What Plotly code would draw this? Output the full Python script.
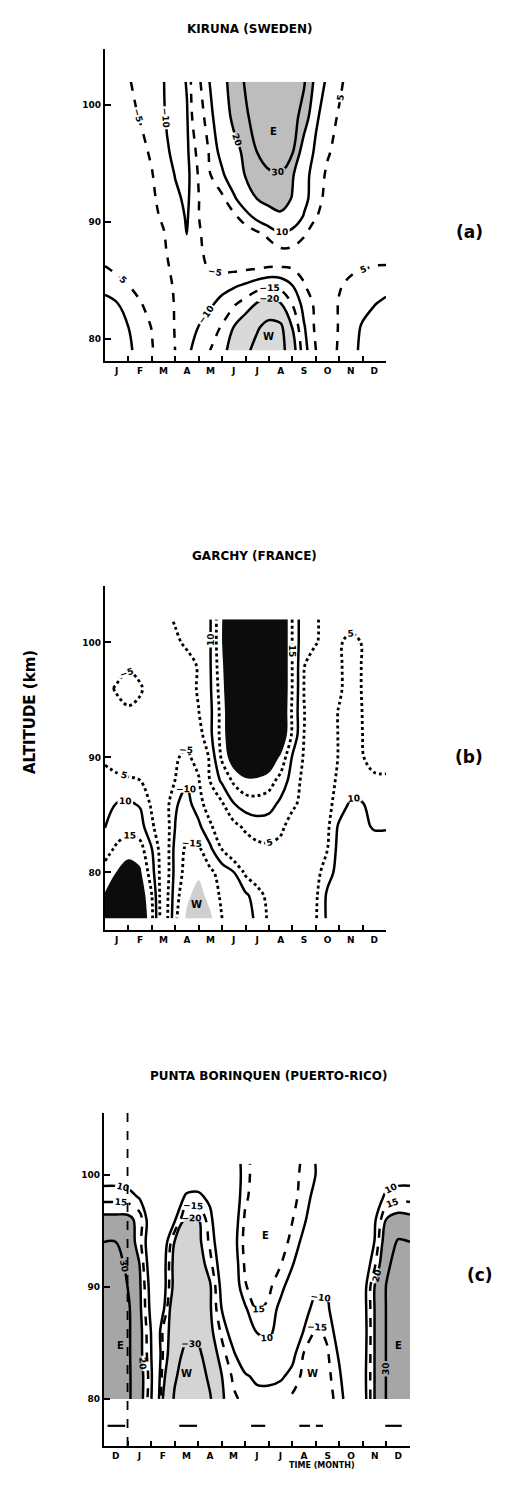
import plotly.graph_objects as go

W, H = 520, 1490

# ---------------- data ----------------
MONTH_LABELS_AB = ["J", "F", "M", "A", "M", "J", "J", "A", "S", "O", "N", "D"]
MONTH_LABELS_C = ["D", "J", "F", "M", "A", "M", "J", "J", "A", "S", "O", "N", "D"]
MONTH_CENTRES_AB = [0.5, 1.5, 2.5, 3.5, 4.5, 5.5, 6.5, 7.5, 8.5, 9.5, 10.5, 11.5]
MONTH_EDGES_AB = [1, 2, 3, 4, 5, 6, 7, 8, 9, 10, 11]
MONTH_CENTRES_C = [-0.5, 0.5, 1.5, 2.5, 3.5, 4.5, 5.5, 6.5, 7.5, 8.5, 9.5, 10.5, 11.5]
MONTH_EDGES_C = [0, 1, 2, 3, 4, 5, 6, 7, 8, 9, 10, 11]
ALT_TICKS = [80, 90, 100]
ALT_TICK_TEXT = ["80", "90", "100"]

# (a) Kiruna - zonal wind (m/s), rows = altitude (km), columns = month
KIRUNA_MONTH = [0, 0.5, 1, 1.5, 2, 2.5, 3, 3.5, 4, 4.5, 5, 5.5, 6, 6.5, 7, 7.5, 8, 8.5, 9, 9.5, 10, 10.5, 11, 11.5, 12]
KIRUNA_ALT = [79, 81, 83, 84.5, 86, 87.5, 89, 90.5, 92, 94, 96, 99, 102]
KIRUNA_WIND = [
    [16, 14, 11, 8, 5.5, 1, -5.1, -9, -12, -15.1, -18, -23, -28, -33, -36, -34, -23, -12, -5.1, 1, 6, 8.5, 11, 13.5, 15.5],
    [14, 12.5, 10, 7.5, 4.8, 0, -5.5, -8, -10.1, -12.5, -15.5, -20.1, -24, -29, -33, -32, -19.8, -10.5, -4, 1, 5.5, 8, 10.5, 12, 13.5],
    [11.5, 10.3, 8, 5.5, 2.5, -1.5, -5.5, -7, -8, -9.3, -11.5, -14.3, -17, -20.5, -23, -20.3, -14.8, -8, -4, 1, 5.5, 7.5, 8.5, 9.8, 11],
    [8.5, 7, 5.2, 3, 0.5, -2.5, -5.8, -7, -7.5, -8, -8.5, -9.5, -11, -13, -14.5, -13.5, -10.3, -5.5, -2, 1, 4.5, 6.5, 7.5, 8, 8.5],
    [5.5, 4, 2.5, 1, -1, -3.5, -6.5, -8, -6.5, -4.5, -4, -4, -4.5, -5, -5.8, -6, -5, -3.5, -1.5, 0.5, 2, 4, 4.8, 5.5, 5.8],
    [2, 1, -0.5, -2, -3.5, -4.5, -6.5, -8.5, -5.8, -3.5, -2, -1, 0, 1.5, 3, 4, 4, 3, 2, 1.5, 1.5, 2, 2.5, 2.5, 2],
    [-1, -1.8, -2.5, -3.2, -4, -4.8, -7, -10.2, -5.5, -3, -1, 0.5, 2, 4, 6, 9.5, 8, 5.5, 3, 2, 1.5, 1, 0.5, 0, -0.5],
    [-1, -2, -2.8, -3.4, -4.2, -5.5, -8, -10.5, -5.1, -1.5, 1.5, 4, 8, 12, 16, 18.5, 15, 9.5, 5.3, 3, 2, 1.2, 0.5, 0, -0.5],
    [-1, -2, -3, -3.6, -4.5, -6, -9, -11, -5.2, 0, 4, 9, 14, 20.2, 23, 24, 19.5, 12, 6.5, 3.8, 2.5, 1.5, 0.8, 0, -0.5],
    [-1, -2, -3, -3.8, -4.8, -7, -10.2, -11.5, -4.5, 4.9, 9, 14, 20.5, 25, 28, 29, 21, 12, 7.5, 4.2, 2.5, 1.5, 0.8, 0, -0.5],
    [-1, -2, -3, -4, -5.5, -8, -12, -11, -3, 6.5, 12, 17, 22, 30.2, 36, 37, 31, 14, 9, 5.5, 3.5, 2, 1, 0, -0.5],
    [-2, -3, -4, -5.2, -7.5, -9.5, -13, -10.5, 2, 8.5, 15, 22, 28.5, 34, 37, 37, 34, 26, 11, 7, 4.5, 2.5, 1, 0, -1],
    [-2, -3, -4.6, -6.5, -8.5, -9.8, -14, -9.5, 4, 10.5, 17, 24, 31, 36, 38, 38, 35, 31, 17, 8, 6, 3, 1, 0, -1],
]

# (b) Garchy
GARCHY_MONTH = [0, 0.5, 1, 1.5, 2, 2.5, 3, 3.5, 4, 4.5, 5, 5.5, 6, 6.5, 7, 7.5, 8, 8.5, 9, 9.5, 10, 10.5, 11, 11.5, 12]
GARCHY_ALT = [76, 78, 80, 82, 84, 86, 88, 90, 92, 94, 96, 98, 100, 102]
GARCHY_WIND = [
    [22, 25, 27, 26, 16, 0, -14, -21, -24, -21, -15, -13.5, -12, -9, -4, -1, 0.5, 1.5, 4.5, 11, 13.5, 14, 14, 13.5, 14],
    [20.5, 23, 25, 24, 15, 0, -13, -19, -22, -18, -14, -12.5, -11, -7.5, -3, -1, 0.5, 1.5, 4, 11, 13, 13.5, 13.5, 13, 13.5],
    [17, 20.2, 22, 21, 12, 1, -12, -17, -19, -16, -13, -10.2, -4, -1, 0, 0.5, 1, 1.5, 3, 8, 12, 13, 13, 12.5, 13],
    [13, 16, 18.5, 17, 10.2, 1, -12, -16, -16, -11, -5, 0, 2, 3.5, 4, 3.5, 2, 1, 2, 5, 12, 14, 13.5, 12.5, 12.5],
    [9.8, 12, 13, 12, 6, 0, -10.1, -13, -11, -6, 0, 3.5, 6, 7.5, 7.5, 6, 3, 1.5, 2, 4, 11, 13, 11, 9.5, 9.5],
    [8, 10.1, 10.5, 9.5, 4, -1, -9.5, -11.5, -7.5, -1, 4.5, 9.9, 12.5, 13, 12, 9, 6, 3.5, 3, 4, 6.5, 11, 10.2, 8, 8],
    [6, 6, 5.7, 5, 2, -1.5, -5.05, -9.5, -5.5, 5.5, 11, 16, 19, 19, 17.5, 13, 8, 3.5, 3, 4, 5.5, 7, 6.5, 5.8, 5.8],
    [4.5, 3, 1.5, 0, -1.5, -3, -4.5, -6, -3, 6.5, 16, 24, 28, 28, 25, 19, 9.5, 4.5, 3, 3.5, 5.2, 7, 5.2, 3.5, 3],
    [-1, -2, -2.5, -2.5, -2, -2.5, -3, -3.5, 3, 9, 17, 28, 32, 33, 32, 27, 14, 5, 3, 3.5, 5.2, 7, 5, 2.5, 0],
    [-2, -3.5, -4.5, -4, -2, -0.5, 0.5, 2.5, 4.9, 9, 17, 29, 33, 34, 33, 28, 14, 5.1, 3, 3.5, 5.2, 7, 4.9, 2, -0.5],
    [-3.5, -5.5, -6.5, -5.5, -3, -1, 1, 3, 5.5, 9.5, 18, 30, 33, 34, 33, 28, 14.8, 4.9, 3, 3, 4.5, 6.5, 4.8, 1.5, -1.5],
    [-1, -3, -4.5, -3.5, -1.5, 0, 1.5, 3, 5.5, 9.8, 19, 30, 33, 34, 33, 28, 14.8, 5.1, 3.5, 3.5, 4.5, 6.5, 4.8, 2, 0],
    [0, 0, 0.5, 1, 1.5, 2.5, 4, 6, 7.5, 9.8, 20, 30, 33, 34, 33, 28, 14.8, 6, 5.2, 4, 4.6, 6, 4.8, 2, 0.5],
    [0, 0, 0.5, 1, 2, 3.5, 5.5, 7, 8, 9.8, 19.8, 30, 33, 34, 33, 28, 14.8, 6, 5.3, 4, 3, 3.5, 3, 1.5, 0.5],
]

# (c) Punta Borinquen
PUNTA_MONTH = [-1, -0.5, 0, 0.5, 1, 1.5, 2, 2.5, 3, 3.5, 4, 4.5, 5, 5.5, 6, 6.5, 7, 7.5, 8, 8.5, 9, 9.5, 10, 10.5, 11, 11.5, 12]
PUNTA_ALT = [80, 82, 84, 86, 88, 90, 92, 94, 96, 98, 100, 101]
PUNTA_WIND = [
    [35, 35, 32, 24, 11, -20.1, -31, -36, -37, -31, -21, -16, -13.5, -12.5, -13, -14, -16, -18, -18.5, -17, -13, -4, 6, 20.2, 30.5, 35, 35],
    [35, 35, 32, 24, 12, -18, -29, -34, -35, -28, -20.2, -14, -11, -8.5, -8, -9, -12, -16.5, -17.5, -16.5, -11, -3, 6.5, 20.2, 30.5, 35, 35],
    [35, 35, 32, 23, 10.5, -15, -27, -32, -32, -25, -17, -11, -4, 3, 6, 2, -8, -15.5, -17, -15.5, -9, -1, 6, 20.2, 30.5, 35, 35],
    [35, 35, 32, 23, 9.8, -16, -24, -28, -27, -22, -14, -6, 3, 10.5, 12, 6, -4, -10.5, -16, -14, -6, 0, 5.5, 20.2, 30.5, 35, 35],
    [35, 35, 32, 22, 8, -8, -28, -27, -26, -21, -10, -2, 9, 15.5, 14, 8, 0, -7, -13, -11, -4, 1, 6, 20.2, 30.5, 35, 35],
    [35, 35, 30, 21.5, 7, -6, -23, -26, -25, -21, -8, 5, 14.5, 18, 16, 12, 6, -1, -8, -8.5, -4, 1, 6, 20.2, 30.5, 35, 35],
    [34, 34, 28, 20.2, 5, -6, -23, -25, -24, -17, -6, 6, 16, 19, 18.5, 15.2, 10.5, 4, -1, -2, 0, 2, 4, 14, 28, 34, 34],
    [30, 30, 25, 17, 4, -4, -20.3, -23, -22, -14, -4, 7, 17, 19, 19, 17.5, 13.5, 8, 3, 0, 0, 1, 3, 10.2, 25, 31, 30],
    [22, 22, 22, 18, 5, -2, -9, -21, -20.5, -12, -2, 6, 16, 19, 19, 18, 15.2, 11, 5, 1, 0, 1, 3, 9, 20.3, 23, 22],
    [13, 13, 12.5, 9.5, 4, -1, -6, -11, -11.5, -8.5, -1, 5, 14, 18, 19, 18.5, 16.5, 13, 7.5, 3, 1, 1, 2, 6, 11.5, 13, 13],
    [7, 7, 6, 4, 2, -1, -3, -5, -5, -3, 0, 5, 13, 18, 19, 18.5, 17, 13.5, 9.9, 5, 2, 1, 2, 4, 6, 7, 7],
    [6, 6, 5, 3, 1, -1, -2.5, -4, -4, -2, 1, 5.5, 13, 18, 19, 18.5, 17, 14, 9.8, 5, 2, 1, 2, 3, 5, 6, 6],
]
PUNTA_COVER_START = [-0.85, 2.2, 5.25, 7.3, 8.0, 10.95]
PUNTA_COVER_END = [-0.1, 2.95, 5.85, 7.75, 8.3, 11.65]
PUNTA_COVER_ALT = 77.6
YEAR_START = 0

KIRUNA_TAGS = [("E", 7.2, 97.7), ("W", 7.0, 80.2)]
GARCHY_TAGS = [("W", 3.9, 77.2)]
PUNTA_TAGS = [("E", -0.3, 84.8), ("W", 2.5, 82.3), ("E", 5.85, 94.6), ("W", 7.85, 82.3), ("E", 11.5, 84.8)]

# ---------------- layout geometry (pixels) ----------------
PANELS = [
    dict(box=(105, 386, 49, 361), yr=(78.1, 104.8), xr=(0, 12)),
    dict(box=(105, 386, 586, 930), yr=(75.0, 104.9), xr=(0, 12)),
    dict(box=(104, 410, 1113, 1446), yr=(75.8, 105.5), xr=(-1, 12)),
]

FONT = "DejaVu Sans"
BOLD = dict(family=FONT, color="black", weight="bold")


def fx(px):
    return px / W


def fy(py):
    return 1 - py / H


fig = go.Figure()
layout = dict(width=W, height=H, margin=dict(l=0, r=0, t=0, b=0),
              paper_bgcolor="white", plot_bgcolor="white", showlegend=False,
              font=dict(family=FONT, color="black"))

for i, p in enumerate(PANELS):
    l, r, t, b = p["box"]
    n = i + 1
    labels = MONTH_LABELS_C if i == 2 else MONTH_LABELS_AB
    centres = MONTH_CENTRES_C if i == 2 else MONTH_CENTRES_AB
    edges = MONTH_EDGES_C if i == 2 else MONTH_EDGES_AB
    xd = [fx(l), fx(r)]
    yd = [fy(b), fy(t)]
    common_x = dict(range=list(p["xr"]), tickmode="array", tickvals=centres, ticktext=labels,
                    ticks="", showgrid=False, zeroline=False, showline=True, linecolor="black",
                    linewidth=2.2, tickfont=dict(size=9, **BOLD), fixedrange=True,
                    minor=dict(tickmode="array", tickvals=edges, ticks="inside", ticklen=5,
                               tickwidth=1.6, tickcolor="black", showgrid=False))
    common_y = dict(range=list(p["yr"]), tickmode="array", tickvals=ALT_TICKS, ticktext=ALT_TICK_TEXT,
                    ticks="inside", ticklen=6, tickwidth=1.6, tickcolor="black", showgrid=False,
                    zeroline=False, showline=True, linecolor="black", linewidth=2.2,
                    tickfont=dict(size=9, **BOLD), fixedrange=True)
    xb = "xaxis" if n == 1 else f"xaxis{n}"
    yb = "yaxis" if n == 1 else f"yaxis{n}"
    xid = "x" if n == 1 else f"x{n}"
    yid = "y" if n == 1 else f"y{n}"
    layout[xb] = dict(domain=xd, anchor=yid, side="bottom", **common_x)
    layout[yb] = dict(domain=yd, anchor=xid, side="left", **common_y)
    layout[f"xaxis{n + 3}"] = dict(domain=xd, anchor=yid, side="top", overlaying=xid, **common_x)
    layout[f"yaxis{n + 3}"] = dict(domain=yd, anchor=xid, side="right", overlaying=yid, **common_y)

fig.update_layout(**layout)

AX = [("x", "y"), ("x2", "y2"), ("x3", "y3")]


def shade_above(xv, yv, zv, val, color, ax):
    # plotly shades the region that violates the constraint, so "<" shades z > val
    return go.Contour(x=xv, y=yv, z=zv, xaxis=ax[0], yaxis=ax[1], showscale=False, hoverinfo="skip",
                      contours=dict(type="constraint", operation="<", value=val),
                      fillcolor=color, line=dict(width=0, smoothing=1.0))


def shade_below(xv, yv, zv, val, color, ax):
    return go.Contour(x=xv, y=yv, z=zv, xaxis=ax[0], yaxis=ax[1], showscale=False, hoverinfo="skip",
                      contours=dict(type="constraint", operation=">", value=val),
                      fillcolor=color, line=dict(width=0, smoothing=1.0))


def lines(xv, yv, zv, start, end, size, dash, ax, width=2.5):
    return go.Contour(x=xv, y=yv, z=zv, xaxis=ax[0], yaxis=ax[1], showscale=False, hoverinfo="skip",
                      autocontour=False,
                      contours=dict(coloring="none", start=start, end=end, size=size, showlabels=True,
                                    labelfont=dict(size=9, **BOLD)),
                      line=dict(color="black", width=width, dash=dash, smoothing=1.0))


# (a) Kiruna
ax = AX[0]
fig.add_trace(shade_above(KIRUNA_MONTH, KIRUNA_ALT, KIRUNA_WIND, 20, "#bdbdbd", ax))
fig.add_trace(shade_below(KIRUNA_MONTH, KIRUNA_ALT, KIRUNA_WIND, -20, "#d9d9d9", ax))
fig.add_trace(lines(KIRUNA_MONTH, KIRUNA_ALT, KIRUNA_WIND, 10, 30, 10, "solid", ax))
fig.add_trace(lines(KIRUNA_MONTH, KIRUNA_ALT, KIRUNA_WIND, -30, -10, 10, "solid", ax))
fig.add_trace(lines(KIRUNA_MONTH, KIRUNA_ALT, KIRUNA_WIND, -15, 5, 10, "dash", ax))

# (b) Garchy
ax = AX[1]
fig.add_trace(shade_above(GARCHY_MONTH, GARCHY_ALT, GARCHY_WIND, 20, "#0c0c0c", ax))
fig.add_trace(shade_below(GARCHY_MONTH, GARCHY_ALT, GARCHY_WIND, -20, "#cfcfcf", ax))
fig.add_trace(lines(GARCHY_MONTH, GARCHY_ALT, GARCHY_WIND, -10, 10, 20, "solid", ax))
fig.add_trace(lines(GARCHY_MONTH, GARCHY_ALT, GARCHY_WIND, -15, 15, 10, "dot", ax, width=2.8))

# (c) Punta Borinquen
ax = AX[2]
fig.add_trace(shade_above(PUNTA_MONTH, PUNTA_ALT, PUNTA_WIND, 20, "#a6a6a6", ax))
fig.add_trace(shade_below(PUNTA_MONTH, PUNTA_ALT, PUNTA_WIND, -20, "#d4d4d4", ax))
fig.add_trace(lines(PUNTA_MONTH, PUNTA_ALT, PUNTA_WIND, 10, 30, 10, "solid", ax))
fig.add_trace(lines(PUNTA_MONTH, PUNTA_ALT, PUNTA_WIND, -30, -10, 10, "solid", ax))
fig.add_trace(lines(PUNTA_MONTH, PUNTA_ALT, PUNTA_WIND, -15, 15, 30, "dash", ax))

cx, cy = [], []
for s, e in zip(PUNTA_COVER_START, PUNTA_COVER_END):
    cx += [s, e, None]
    cy += [PUNTA_COVER_ALT, PUNTA_COVER_ALT, None]
fig.add_trace(go.Scatter(x=cx, y=cy, xaxis="x3", yaxis="y3", mode="lines",
                         line=dict(color="black", width=2.2), hoverinfo="skip"))
fig.add_shape(type="line", xref="x3", yref="y3 domain", x0=YEAR_START, x1=YEAR_START, y0=0, y1=1,
              line=dict(color="black", width=1.8, dash="dash"))

# region letters
ann = []
for tags, (xa, ya) in [(KIRUNA_TAGS, AX[0]), (GARCHY_TAGS, AX[1]), (PUNTA_TAGS, AX[2])]:
    for txt, xv, yv in tags:
        ann.append(dict(text=txt, x=xv, y=yv, xref=xa, yref=ya, showarrow=False,
                        font=dict(size=10, **BOLD)))

# titles and labels
ann += [
    dict(text="KIRUNA (SWEDEN)", x=fx(250), y=fy(20), xref="paper", yref="paper", showarrow=False,
         font=dict(size=12, **BOLD)),
    dict(text="GARCHY (FRANCE)", x=fx(254), y=fy(556), xref="paper", yref="paper", showarrow=False,
         font=dict(size=12, **BOLD)),
    dict(text="PUNTA BORINQUEN (PUERTO-RICO)", x=fx(268), y=fy(1085), xref="paper", yref="paper",
         showarrow=False, font=dict(size=12, **BOLD)),
    dict(text="ALTITUDE (km)", x=fx(19), y=fy(712), xref="paper", yref="paper", showarrow=False,
         textangle=-90, font=dict(size=15, **BOLD)),
    dict(text="(a)", x=fx(485), y=fy(220), xref="paper", yref="paper", showarrow=False,
         font=dict(size=17, **BOLD)),
    dict(text="(b)", x=fx(485), y=fy(757), xref="paper", yref="paper", showarrow=False,
         font=dict(size=17, **BOLD)),
    dict(text="(c)", x=fx(495), y=fy(1287), xref="paper", yref="paper", showarrow=False,
         font=dict(size=17, **BOLD)),
    dict(text="TIME (MONTH)", x=fx(322), y=fy(1472), xref="paper", yref="paper", showarrow=False,
         font=dict(size=8, **BOLD)),
]
fig.update_layout(annotations=ann)

fig.write_html("out.html")
